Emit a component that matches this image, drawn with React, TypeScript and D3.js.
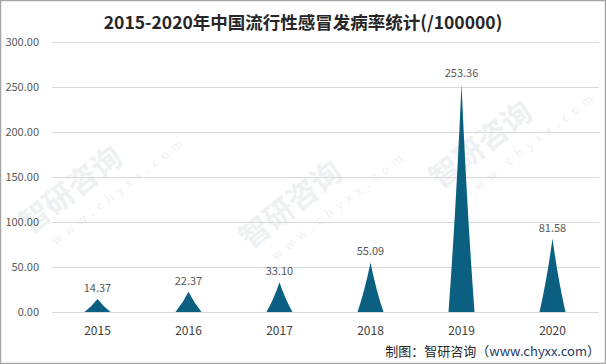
// Influenza incidence peak chart (2015-2020)
import React, { useRef, useEffect } from 'react';
import * as d3 from 'd3';

const YEARS = ['2015', '2016', '2017', '2018', '2019', '2020'];
const RATES = [14.37, 22.37, 33.1, 55.09, 253.36, 81.58];
const Y_TICKS = [0, 50, 100, 150, 200, 250, 300];

const TITLE = '2015-2020年中国流行性感冒发病率统计(/100000)';
const FONT = '"Noto Sans CJK SC", "Noto Sans", sans-serif';
const BAR_COLOR = '#0b5f81';

const WATERMARKS = [
  { x: 30, y: 235 },
  { x: 250, y: 250 },
  { x: 440, y: 190 },
];

export default function App() {
  const svgRef = useRef<SVGSVGElement | null>(null);

  useEffect(() => {
    if (!svgRef.current) return;
    const W = 606;
    const H = 364;
    const svg = d3.select(svgRef.current);
    svg.selectAll('*').remove();
    svg.attr('width', W).attr('height', H);

    svg.append('rect')
      .attr('x', 0).attr('y', 0).attr('width', W).attr('height', H)
      .attr('fill', '#fff');

    // faint watermarks, kept well inside the frame
    const wm = svg.append('g');
    WATERMARKS.forEach(p => {
      const g = wm.append('g').attr('transform', `translate(${p.x},${p.y}) rotate(-38)`);
      g.append('text')
        .attr('font-family', FONT).attr('font-size', 30).attr('font-weight', 700)
        .attr('fill', '#eef1f4').text('智研咨询');
      g.append('text')
        .attr('x', 14).attr('y', 24)
        .attr('font-family', FONT).attr('font-size', 12)
        .attr('letter-spacing', 6)
        .attr('fill', '#eef1f4').text('www.chyxx.com');
    });

    const margin = { left: 52, right: 8, top: 42, bottom: 52 };
    const x = d3.scaleBand()
      .domain(YEARS)
      .range([margin.left, W - margin.right]);
    const y = d3.scaleLinear()
      .domain([0, 300])
      .range([H - margin.bottom, margin.top]);

    // title
    svg.append('text')
      .attr('x', W / 2).attr('y', 29)
      .attr('text-anchor', 'middle')
      .attr('font-family', FONT).attr('font-size', 17.5).attr('font-weight', 700)
      .attr('fill', '#262626')
      .text(TITLE);

    // grid + y labels
    svg.append('g').selectAll('line')
      .data(Y_TICKS)
      .join('line')
      .attr('x1', margin.left).attr('x2', W - margin.right + 1)
      .attr('y1', d => Math.round(y(d)) + 0.5).attr('y2', d => Math.round(y(d)) + 0.5)
      .attr('stroke', '#d9d9d9').attr('stroke-width', 1);

    svg.append('g').selectAll('text')
      .data(Y_TICKS)
      .join('text')
      .attr('x', 39).attr('y', d => y(d) + 4)
      .attr('text-anchor', 'end')
      .attr('font-family', FONT).attr('font-size', 11)
      .attr('fill', '#595959')
      .text(d => d.toFixed(2));

    // peak shaped bars (slightly concave sides)
    const baseW = 26;
    const y0 = y(0);
    svg.append('g').selectAll('path')
      .data(RATES)
      .join('path')
      .attr('d', (d, i) => {
        const cx = (x(YEARS[i]) ?? 0) + x.bandwidth() / 2;
        const top = y(d);
        const h = y0 - top;
        const p = d3.path();
        p.moveTo(cx - baseW / 2, y0);
        p.quadraticCurveTo(cx - baseW * 0.21, y0 - h * 0.45, cx, top);
        p.quadraticCurveTo(cx + baseW * 0.21, y0 - h * 0.45, cx + baseW / 2, y0);
        p.closePath();
        return p.toString();
      })
      .attr('fill', BAR_COLOR);

    // value labels
    svg.append('g').selectAll('text')
      .data(RATES)
      .join('text')
      .attr('x', (_, i) => (x(YEARS[i]) ?? 0) + x.bandwidth() / 2)
      .attr('y', d => y(d) - 7)
      .attr('text-anchor', 'middle')
      .attr('font-family', FONT).attr('font-size', 11)
      .attr('fill', '#595959')
      .text(d => d.toFixed(2));

    // x labels
    svg.append('g').selectAll('text')
      .data(YEARS)
      .join('text')
      .attr('x', d => (x(d) ?? 0) + x.bandwidth() / 2)
      .attr('y', y0 + 23)
      .attr('text-anchor', 'middle')
      .attr('font-family', FONT).attr('font-size', 12)
      .attr('fill', '#404040')
      .text(d => d);

    // source note
    const src = svg.append('text')
      .attr('x', 600).attr('y', 356)
      .attr('text-anchor', 'end')
      .attr('font-family', FONT).attr('font-size', 13)
      .attr('fill', '#262626');
    src.append('tspan').text('制图：智研咨询（');
    src.append('tspan').attr('fill', '#1f3a68').text('www.chyxx.com');
    src.append('tspan').text('）');

    // outer border
    svg.append('rect')
      .attr('x', 0.5).attr('y', 0.5).attr('width', W - 1).attr('height', H - 1)
      .attr('fill', 'none').attr('stroke', '#a6a6a6').attr('stroke-width', 1.5);
  }, []);

  return (
    <svg
      ref={svgRef}
      style={{ position: 'absolute', left: 0, top: 0, display: 'block' }}
    />
  );
}
